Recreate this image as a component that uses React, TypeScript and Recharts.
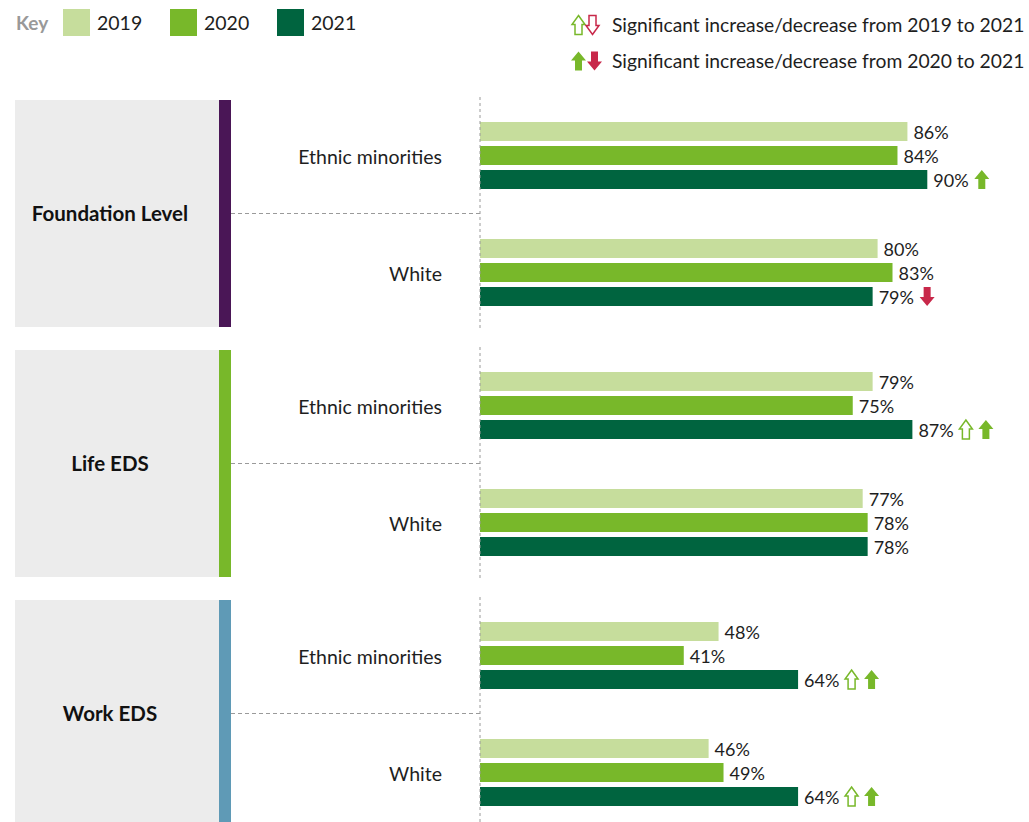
import React from "react";
import { BarChart, Bar, XAxis, YAxis, LabelList } from "recharts";

const panels = ["Foundation Level", "Life EDS", "Work EDS"];
const panelColors = ["#4a1656", "#78b82a", "#5f9ab6"];
const groups = ["Ethnic minorities", "White"];
const years = ["2019", "2020", "2021"];
const yearColors = ["#c6dd9c", "#78b82a", "#00643f"];

// one entry per panel/group, in order: FL-EM, FL-W, Life-EM, Life-W, Work-EM, Work-W
const values2019 = [86, 80, 79, 77, 48, 46];
const values2020 = [84, 83, 75, 78, 41, 49];
const values2021 = [90, 79, 87, 78, 64, 64];
// significance markers shown after the 2021 value
const sig2019to2021 = ["", "", "up", "", "up", "up"];
const sig2020to2021 = ["up", "down", "up", "", "up", "up"];

const FONT = "Lato, 'Open Sans', sans-serif";
const TEXT = "#1e1e1e";
const UP = "#78b82a";
const DOWN = "#c8284a";

const PANEL_TOP = [100, 350, 600];
const PANEL_H = 227;

type Row = {
  group: string;
  v2019: number;
  v2020: number;
  v2021: number;
  sigA: string;
  sigB: string;
};

const panelRows: Row[][] = panels.map((_, pi) =>
  groups.map((g, gi) => {
    const i = pi * 2 + gi;
    return {
      group: g,
      v2019: values2019[i],
      v2020: values2020[i],
      v2021: values2021[i],
      sigA: sig2019to2021[i],
      sigB: sig2020to2021[i],
    };
  })
);

function Arrow({ x, y, dir, filled, color, w = 15 }: { x: number; y: number; dir: string; filled: boolean; color: string; w?: number }) {
  const h = 19;
  const head = 9;
  const shaft = 7;
  const sx = (w - shaft) / 2;
  const pts =
    dir === "up"
      ? [[w / 2, 0], [w, head], [sx + shaft, head], [sx + shaft, h], [sx, h], [sx, head], [0, head]]
      : [[w / 2, h], [w, h - head], [sx + shaft, h - head], [sx + shaft, 0], [sx, 0], [sx, h - head], [0, h - head]];
  return (
    <polygon
      points={pts.map(([a, b]) => `${x + a},${y + b}`).join(" ")}
      fill={filled ? color : "#fff"}
      stroke={filled ? "none" : color}
      strokeWidth={1.5}
      strokeLinejoin="miter"
    />
  );
}

function valueLabel(rows: Row[], withSig: boolean) {
  return (props: any) => {
    const { x, y, width, height, value, index } = props;
    const tx = Number(x) + Number(width) + 6;
    const cy = Number(y) + Number(height) / 2;
    const row = rows[index];
    let ax = tx + 41;
    const marks: React.ReactNode[] = [];
    if (withSig && row) {
      if (row.sigA) {
        marks.push(<Arrow key="a" x={ax} y={cy - 9.5} w={13} dir={row.sigA} filled={false} color={row.sigA === "up" ? UP : DOWN} />);
        ax += 19;
      }
      if (row.sigB) {
        marks.push(<Arrow key="b" x={ax} y={cy - 9.5} dir={row.sigB} filled color={row.sigB === "up" ? UP : DOWN} />);
      }
    }
    return (
      <g>
        <text x={tx} y={cy + 1} dy="0.35em" fontSize={18} fill={TEXT} fontFamily={FONT}>
          {value}%
        </text>
        {marks}
      </g>
    );
  };
}

function GroupTick(props: any) {
  const { y, payload } = props;
  return (
    <text x={442} y={y + 2} dy="0.35em" textAnchor="end" fontSize={19.5} fill={TEXT} fontFamily={FONT}>
      {payload.value}
    </text>
  );
}

function Panel({ index }: { index: number }) {
  const top = PANEL_TOP[index];
  const rows = panelRows[index];
  const h = Math.min(PANEL_H, 822 - top);
  return (
    <>
      <div style={{ position: "absolute", left: 15, top, width: 204, height: h, background: "#ececec" }} />
      <div style={{ position: "absolute", left: 219, top, width: 12, height: h, background: panelColors[index] }} />
      <div
        style={{
          position: "absolute",
          left: 10,
          width: 200,
          top: top + PANEL_H / 2 - 13,
          lineHeight: "24px",
          textAlign: "center",
          fontWeight: 700,
          fontSize: 20.5,
          color: "#111",
        }}
      >
        {panels[index]}
      </div>
      <svg style={{ position: "absolute", left: 0, top: 0 }} width={1029} height={822}>
        <line x1={231} x2={480} y1={top + 113.5} y2={top + 113.5} stroke="#9a9a9a" strokeDasharray="4 3" />
      </svg>
      <div style={{ position: "absolute", left: 0, top: top - 3 }}>
        <BarChart
          layout="vertical"
          width={1029}
          height={234}
          data={rows}
          margin={{ top: 0, right: 52, bottom: 0, left: 0 }}
          barSize={19}
          barGap={5}
        >
          <XAxis type="number" domain={[0, 100]} hide />
          <YAxis
            type="category"
            dataKey="group"
            width={480}
            axisLine={{ stroke: "#9a9a9a", strokeDasharray: "3 3" }}
            tickLine={false}
            tick={<GroupTick />}
          />
          <Bar dataKey="v2019" fill={yearColors[0]} isAnimationActive={false}>
            <LabelList dataKey="v2019" content={valueLabel(rows, false)} />
          </Bar>
          <Bar dataKey="v2020" fill={yearColors[1]} isAnimationActive={false}>
            <LabelList dataKey="v2020" content={valueLabel(rows, false)} />
          </Bar>
          <Bar dataKey="v2021" fill={yearColors[2]} isAnimationActive={false}>
            <LabelList dataKey="v2021" content={valueLabel(rows, true)} />
          </Bar>
        </BarChart>
      </div>
    </>
  );
}

function Legend() {
  const swatchX = [63, 170, 277];
  return (
    <>
      <div style={{ position: "absolute", left: 16, top: 11, lineHeight: "24px", fontSize: 19, fontWeight: 700, color: "#999" }}>Key</div>
      {years.map((yr, i) => (
        <React.Fragment key={yr}>
          <div style={{ position: "absolute", left: swatchX[i], top: 9, width: 27, height: 27, background: yearColors[i] }} />
          <div style={{ position: "absolute", left: swatchX[i] + 34, top: 11, lineHeight: "24px", fontSize: 19.5, color: TEXT }}>{yr}</div>
        </React.Fragment>
      ))}
      <svg style={{ position: "absolute", left: 0, top: 0 }} width={1029} height={90}>
        <Arrow x={572} y={15.5} w={13} dir="up" filled={false} color={UP} />
        <Arrow x={586} y={15.5} w={13} dir="down" filled={false} color={DOWN} />
        <Arrow x={571} y={51.5} dir="up" filled color={UP} />
        <Arrow x={587} y={51.5} dir="down" filled color={DOWN} />
      </svg>
      <div style={{ position: "absolute", left: 612, top: 13, lineHeight: "24px", fontSize: 19.3, color: TEXT, whiteSpace: "nowrap" }}>
        Significant increase/decrease from 2019 to 2021
      </div>
      <div style={{ position: "absolute", left: 612, top: 49, lineHeight: "24px", fontSize: 19.3, color: TEXT, whiteSpace: "nowrap" }}>
        Significant increase/decrease from 2020 to 2021
      </div>
    </>
  );
}

export default function App() {
  return (
    <div
      style={{
        position: "absolute",
        left: 0,
        top: 0,
        width: 1029,
        height: 822,
        overflow: "hidden",
        background: "#fff",
        fontFamily: FONT,
      }}
    >
      <Legend />
      {panels.map((p, i) => (
        <Panel key={p} index={i} />
      ))}
    </div>
  );
}
